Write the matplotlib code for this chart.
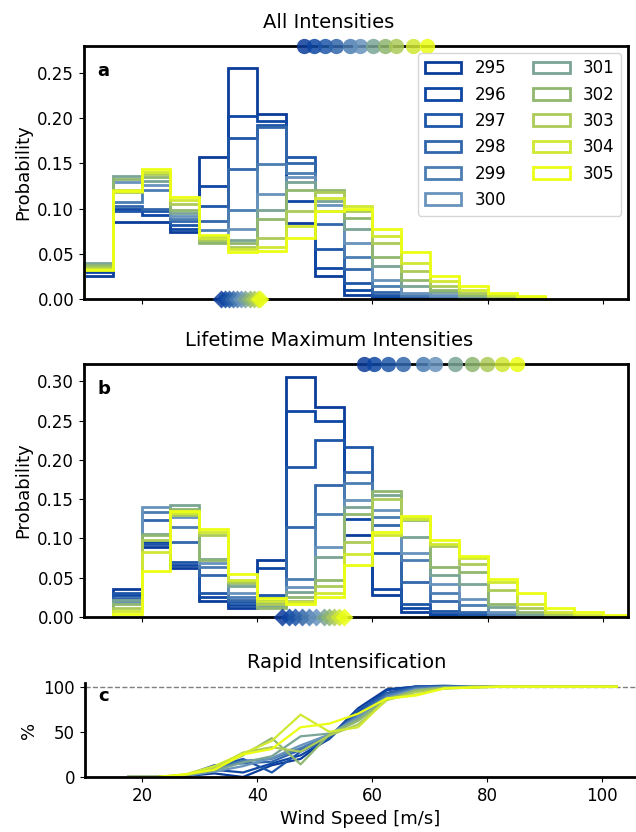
import numpy as np
import matplotlib
matplotlib.use('Agg')
import matplotlib.pyplot as plt
from matplotlib.patches import Patch

# sea surface temperatures (K)
ssts = [295, 296, 297, 298, 299, 300, 301, 302, 303, 304, 305]
colors = ['#0b3c9a', '#0d46a3', '#1d56a8', '#3266ab', '#4b7db2', '#6893bd',
          '#7aa595', '#90b770', '#adcb58', '#d0e832', '#ebff14']

# (a) all intensities, 5 m/s bins from 10 to 90
edges_all = np.arange(10, 95, 5)
prob_all = [
    [0.025, 0.085, 0.085, 0.074, 0.157, 0.256, 0.205, 0.084, 0.025, 0.005, 0.002, 0.001, 0, 0, 0, 0],
    [0.030, 0.100, 0.093, 0.078, 0.125, 0.202, 0.197, 0.108, 0.034, 0.010, 0.003, 0.001, 0.001, 0, 0, 0],
    [0.032, 0.097, 0.097, 0.082, 0.103, 0.178, 0.193, 0.157, 0.055, 0.018, 0.005, 0.002, 0.001, 0, 0, 0],
    [0.034, 0.103, 0.100, 0.086, 0.086, 0.144, 0.190, 0.150, 0.083, 0.033, 0.008, 0.003, 0.001, 0.001, 0, 0],
    [0.036, 0.107, 0.121, 0.089, 0.076, 0.098, 0.149, 0.139, 0.097, 0.047, 0.014, 0.005, 0.002, 0.001, 0, 0],
    [0.038, 0.130, 0.126, 0.092, 0.070, 0.078, 0.116, 0.135, 0.104, 0.062, 0.021, 0.007, 0.004, 0.002, 0, 0],
    [0.040, 0.136, 0.131, 0.095, 0.064, 0.065, 0.099, 0.130, 0.108, 0.077, 0.036, 0.014, 0.008, 0.003, 0.001, 0],
    [0.038, 0.133, 0.135, 0.098, 0.062, 0.062, 0.089, 0.121, 0.121, 0.090, 0.047, 0.021, 0.010, 0.005, 0.002, 0],
    [0.035, 0.118, 0.138, 0.105, 0.065, 0.058, 0.068, 0.097, 0.118, 0.097, 0.062, 0.031, 0.014, 0.007, 0.003, 0.001],
    [0.033, 0.121, 0.141, 0.110, 0.068, 0.055, 0.058, 0.081, 0.112, 0.103, 0.070, 0.040, 0.020, 0.010, 0.004, 0.001],
    [0.032, 0.120, 0.144, 0.113, 0.071, 0.052, 0.053, 0.068, 0.097, 0.100, 0.077, 0.052, 0.025, 0.014, 0.007, 0.003],
]
top_all = [48.2, 49.9, 51.8, 53.7, 56.1, 57.9, 60.1, 62.2, 64.1, 67.1, 69.4]
bot_all = [33.8, 34.5, 35.2, 35.9, 36.6, 37.3, 38.0, 38.8, 39.5, 40.1, 40.6]

# (b) lifetime maximum intensities, 5 m/s bins from 15 to 105
edges_lmi = np.arange(15, 110, 5)
prob_lmi = [
    [0.036, 0.089, 0.062, 0.021, 0.011, 0.072, 0.306, 0.267, 0.105, 0.028, 0.006, 0.002, 0.001, 0, 0, 0, 0, 0],
    [0.028, 0.096, 0.066, 0.025, 0.015, 0.062, 0.262, 0.250, 0.125, 0.036, 0.011, 0.004, 0.002, 0.001, 0, 0, 0, 0],
    [0.030, 0.093, 0.070, 0.030, 0.019, 0.028, 0.191, 0.225, 0.217, 0.081, 0.017, 0.008, 0.004, 0.001, 0, 0, 0, 0],
    [0.024, 0.123, 0.096, 0.053, 0.022, 0.026, 0.115, 0.168, 0.185, 0.117, 0.045, 0.021, 0.006, 0.002, 0, 0, 0, 0],
    [0.020, 0.134, 0.115, 0.064, 0.025, 0.020, 0.049, 0.131, 0.170, 0.127, 0.072, 0.030, 0.015, 0.004, 0.001, 0, 0, 0],
    [0.018, 0.140, 0.127, 0.069, 0.030, 0.018, 0.038, 0.089, 0.149, 0.136, 0.081, 0.042, 0.023, 0.006, 0.002, 0, 0, 0],
    [0.022, 0.106, 0.143, 0.074, 0.040, 0.014, 0.032, 0.076, 0.140, 0.155, 0.102, 0.053, 0.042, 0.013, 0.004, 0.001, 0, 0],
    [0.016, 0.104, 0.138, 0.072, 0.043, 0.012, 0.025, 0.047, 0.131, 0.161, 0.123, 0.064, 0.057, 0.017, 0.006, 0.002, 0, 0],
    [0.012, 0.098, 0.130, 0.105, 0.045, 0.016, 0.021, 0.040, 0.095, 0.150, 0.127, 0.090, 0.068, 0.034, 0.011, 0.004, 0.001, 0],
    [0.008, 0.083, 0.133, 0.108, 0.047, 0.020, 0.019, 0.030, 0.080, 0.104, 0.125, 0.093, 0.075, 0.045, 0.017, 0.006, 0.003, 0],
    [0.004, 0.059, 0.135, 0.112, 0.055, 0.024, 0.017, 0.025, 0.066, 0.108, 0.128, 0.098, 0.078, 0.049, 0.030, 0.012, 0.006, 0.002],
]
top_lmi = [58.6, 60.3, 62.7, 65.3, 68.8, 70.8, 74.3, 77.2, 79.8, 82.4, 85.0]
bot_lmi = [44.4, 45.5, 46.6, 47.8, 49.0, 50.3, 51.6, 52.5, 53.4, 54.2, 55.0]

# (c) rapid intensification fraction (%) at bin centres
ri_x = np.arange(17.5, 105, 5)
ri_pct = [
    [0, 0, 1, 4, 0, 13, 20, 44, 76, 97, 100, 100, 100, 100, 100, 100, 100, 100],
    [0, 0, 1, 8, 5, 15, 24, 42, 72, 96, 100, 100, 100, 100, 100, 100, 100, 100],
    [0, 0, 1, 11, 20, 5, 28, 43, 74, 93, 100, 101, 100, 100, 100, 100, 100, 100],
    [0, 0, 2, 13, 15, 17, 30, 45, 70, 92, 99, 100, 100, 100, 100, 100, 100, 100],
    [0, 0, 2, 8, 18, 20, 32, 46, 68, 90, 98, 100, 100, 100, 100, 100, 100, 100],
    [0, 0, 1, 6, 12, 21, 35, 47, 66, 88, 97, 99, 100, 100, 100, 100, 100, 100],
    [0, 0, 2, 7, 16, 23, 45, 48, 64, 87, 95, 98, 99, 100, 100, 100, 100, 100],
    [0, 0, 2, 9, 24, 43, 14, 47, 62, 86, 96, 99, 100, 100, 100, 100, 100, 100],
    [0, 0, 2, 10, 27, 33, 28, 46, 58, 85, 94, 98, 100, 100, 100, 100, 100, 100],
    [0, 0, 3, 12, 26, 40, 69, 50, 55, 86, 91, 98, 99, 100, 100, 100, 100, 100],
    [0, 0, 3, 8, 25, 31, 55, 59, 70, 87, 90, 98, 99, 100, 100, 100, 100, 100],
]

plt.rcParams['font.family'] = ['DejaVu Sans']
fig = plt.figure(figsize=(6.36, 8.32), dpi=100)
ax_a = fig.add_axes([0.132, 0.6406, 0.8553, 0.3041])
ax_b = fig.add_axes([0.132, 0.2584, 0.8553, 0.3041])
ax_c = fig.add_axes([0.1336, 0.0661, 0.866, 0.113])

xlim = (10, 104.3)


def hist_panel(ax, edges, probs, tops, bots, ylim, title, letter):
    for i, p in enumerate(probs):
        ax.stairs(p, edges, color=colors[i], lw=2)
    for i in range(len(ssts)):
        ax.plot(tops[i], ylim[1], 'o', ms=11, color=colors[i], alpha=0.85,
                mec='none', clip_on=False, zorder=5)
        ax.plot(bots[i], 0, 'D', ms=9, color=colors[i], alpha=0.85,
                mec='none', clip_on=False, zorder=5)
    ax.set_xlim(*xlim)
    ax.set_ylim(*ylim)
    ax.set_ylabel('Probability', fontsize=13)
    ax.set_title(title, fontsize=14, pad=13, x=0.45)
    ax.text(0.025, 0.9, letter, transform=ax.transAxes, fontsize=13,
            fontweight='bold', va='center')
    ax.set_xticks([20, 40, 60, 80, 100])
    ax.set_xticklabels([])
    ax.tick_params(labelsize=12)
    for s in ax.spines.values():
        s.set_linewidth(2)


hist_panel(ax_a, edges_all, prob_all, top_all, bot_all, (0, 0.28),
           'All Intensities', 'a')
ax_a.set_yticks([0, 0.05, 0.10, 0.15, 0.20, 0.25])
handles = [Patch(facecolor='none', edgecolor=c, lw=2, label=str(t))
           for c, t in zip(colors, ssts)]
ax_a.legend(handles=handles, ncol=2, loc='upper right', fontsize=12,
            handlelength=2.2, columnspacing=1.6, borderaxespad=0.4)

hist_panel(ax_b, edges_lmi, prob_lmi, top_lmi, bot_lmi, (0, 0.322),
           'Lifetime Maximum Intensities', 'b')
ax_b.set_yticks([0, 0.05, 0.10, 0.15, 0.20, 0.25, 0.30])

for i, r in enumerate(ri_pct):
    ax_c.plot(ri_x, r, color=colors[i], lw=1.6)
ax_c.axhline(100, color='gray', ls='--', lw=1, zorder=0)
ax_c.set_xlim(10, 105.8)
ax_c.set_ylim(0, 104)
ax_c.set_yticks([0, 50, 100])
ax_c.set_xticks([20, 40, 60, 80, 100])
ax_c.spines['top'].set_visible(False)
ax_c.spines['right'].set_visible(False)
ax_c.spines['left'].set_linewidth(2)
ax_c.spines['bottom'].set_linewidth(2)
ax_c.tick_params(labelsize=12)
ax_c.set_ylabel('%', fontsize=13)
ax_c.set_xlabel('Wind Speed [m/s]', fontsize=13)
ax_c.set_title('Rapid Intensification', fontsize=14, pad=11, x=0.475)
ax_c.text(0.025, 0.86, 'c', transform=ax_c.transAxes, fontsize=13,
          fontweight='bold', va='center')

fig.savefig('out.png', dpi=100)
